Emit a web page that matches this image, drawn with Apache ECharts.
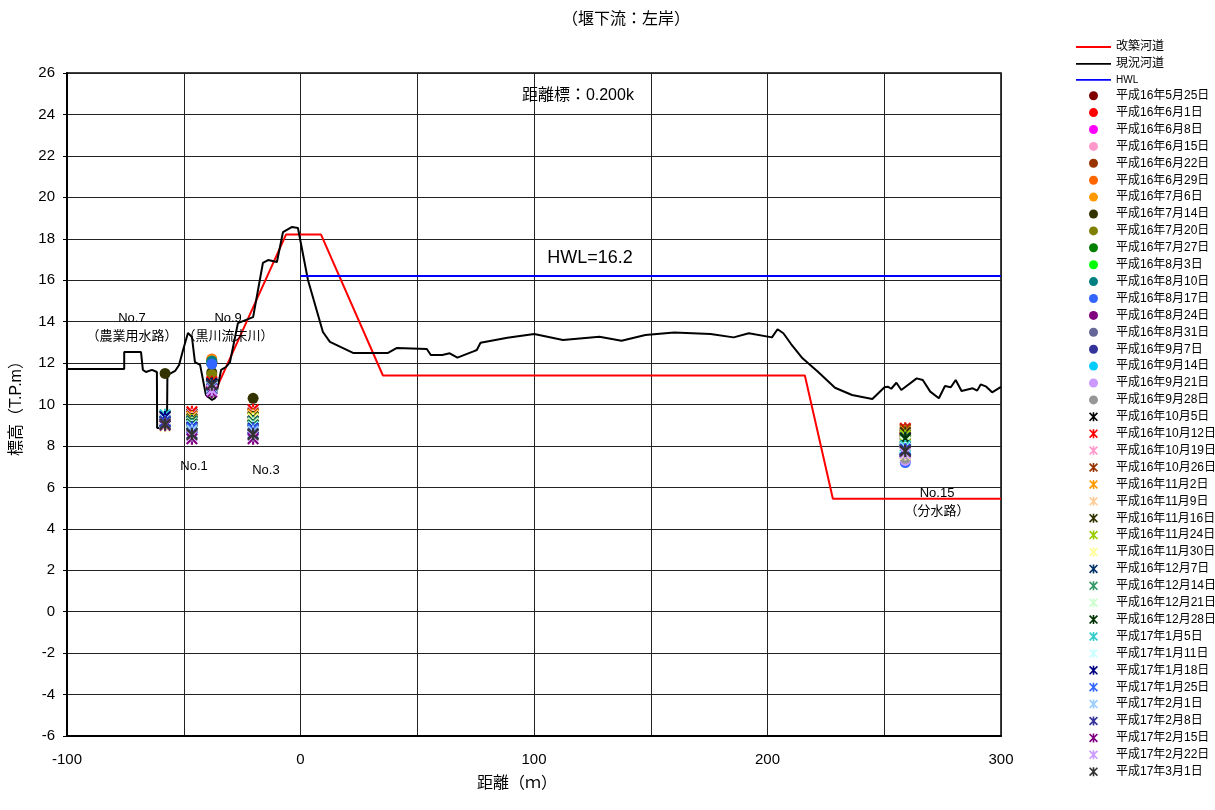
<!DOCTYPE html>
<html>
<head>
<meta charset="utf-8">
<script src="https://cdn.jsdelivr.net/npm/echarts@6/dist/echarts.min.js"></script>
<style>
  html, body { margin: 0; padding: 0; background: #fff; }
  #chart { width: 1215px; height: 810px; }
</style>
</head>
<body>
<div id="chart"></div>
<script>
// ---- Cross-section geometry (distance m, elevation T.P.m) ----
const planProfile = [
  [-37.3, 10.45], [-6.2, 18.2], [8.8, 18.2], [35.3, 11.4],
  [216, 11.4], [228, 5.45], [300, 5.45]
];
const groundProfile = [
  [-100, 11.71], [-75.5, 11.71], [-75.5, 12.53], [-68.3, 12.53], [-67.5, 11.67],
  [-66.2, 11.57], [-63.6, 11.67], [-61.5, 11.57], [-61.4, 8.87], [-57.2, 8.87],
  [-57.0, 11.42], [-53.7, 11.62], [-52.0, 11.91], [-50.3, 12.63], [-48.2, 13.45],
  [-46.5, 13.26], [-45.2, 12.05], [-43.0, 11.91], [-40.5, 10.46], [-37.9, 10.22],
  [-36.6, 10.31], [-35.7, 10.70], [-34.0, 11.67], [-31.9, 11.81], [-30.2, 12.05],
  [-26.8, 13.93], [-20.3, 14.22], [-16.1, 16.83], [-13.9, 16.97], [-10.1, 16.88],
  [-7.5, 18.32], [-3.6, 18.57], [-1.1, 18.52], [3.2, 16.01], [9.6, 13.50],
  [12.6, 13.02], [22.5, 12.49], [31.9, 12.49], [37.5, 12.49], [41.3, 12.73],
  [54.1, 12.68], [55.8, 12.39], [60.7, 12.39], [63.9, 12.47], [67.2, 12.26],
  [73.8, 12.55], [75.5, 12.63], [77.1, 12.98], [88.6, 13.22], [100.1, 13.40],
  [112.4, 13.11], [128.0, 13.27], [137.5, 13.08], [147.7, 13.35], [160.0, 13.47],
  [175.6, 13.40], [185.5, 13.24], [192.0, 13.44], [201.9, 13.24], [204.3, 13.63],
  [206.8, 13.44], [210.1, 12.92], [215.0, 12.23], [221.6, 11.58], [228.9, 10.81],
  [236.2, 10.46], [244.9, 10.27], [250.1, 10.83], [251.5, 10.86], [253.0, 10.76],
  [255.2, 11.05], [257.3, 10.70], [263.9, 11.26], [266.5, 11.18], [269.7, 10.62],
  [273.4, 10.30], [276.0, 10.89], [278.5, 10.83], [280.6, 11.18], [283.1, 10.65],
  [287.9, 10.78], [289.8, 10.67], [291.3, 10.97], [293.7, 10.86], [296.2, 10.59],
  [300.0, 10.85]
];
const hwlLevel = 16.2;
const hwlRange = [0, 300];

// ---- Water-level survey points ----
// observation sites: No.7, No.1, No.9, No.3, No.15
const siteX = [-58, -46.5, -38, -20.3, 259];

const circleDates = [
  '平成16年5月25日', '平成16年6月1日', '平成16年6月8日', '平成16年6月15日',
  '平成16年6月22日', '平成16年6月29日', '平成16年7月6日', '平成16年7月14日',
  '平成16年7月20日', '平成16年7月27日', '平成16年8月3日', '平成16年8月10日',
  '平成16年8月17日', '平成16年8月24日', '平成16年8月31日', '平成16年9月7日',
  '平成16年9月14日', '平成16年9月21日', '平成16年9月28日'
];
const circleColors = [
  '#800000', '#FF0000', '#FF00FF', '#FF99CC', '#993300', '#FF6600', '#FF9900',
  '#333300', '#808000', '#008000', '#00FF00', '#008080', '#3366FF', '#800080',
  '#666699', '#333399', '#00CCFF', '#CC99FF', '#969696'
];
const circleLevels = [
  [null, null, 12.00, null, 8.70],
  [null, null, 12.05, null, 8.80],
  [null, null, 12.00, null, 8.60],
  [null, null, 12.10, null, 8.50],
  [null, null, 12.00, null, 8.75],
  [null, null, 12.20, null, 8.60],
  [null, null, 12.15, null, 8.50],
  [11.50, null, 11.55, 10.30, 8.55],
  [null, null, 11.45, null, 8.40],
  [null, null, 12.05, null, 8.00],
  [null, null, 12.00, null, 7.90],
  [null, null, 12.10, null, 7.70],
  [null, null, 11.95, null, 7.20],
  [null, null, 10.90, null, 7.60],
  [null, null, 10.80, null, 7.50],
  [null, null, 10.85, null, 7.50],
  [9.40, null, 10.70, null, 7.65],
  [null, null, 10.75, null, 7.30],
  [null, null, 10.60, null, 7.40]
];

const crossDates = [
  '平成16年10月5日', '平成16年10月12日', '平成16年10月19日', '平成16年10月26日',
  '平成16年11月2日', '平成16年11月9日', '平成16年11月16日', '平成16年11月24日',
  '平成16年11月30日', '平成16年12月7日', '平成16年12月14日', '平成16年12月21日',
  '平成16年12月28日', '平成17年1月5日', '平成17年1月11日', '平成17年1月18日',
  '平成17年1月25日', '平成17年2月1日', '平成17年2月8日', '平成17年2月15日',
  '平成17年2月22日', '平成17年3月1日'
];
const crossColors = [
  '#000000', '#FF0000', '#FF99CC', '#993300', '#FF9900', '#FFCC99', '#333300',
  '#99CC00', '#FFFF99', '#003366', '#339966', '#CCFFCC', '#003300', '#33CCCC',
  '#CCFFFF', '#000080', '#3366FF', '#99CCFF', '#333399', '#800080', '#CC99FF',
  '#333333'
];
const crossLevels = [
  [9.45, 9.55, 11.00, 9.60, 8.55],
  [9.30, 9.65, 11.10, 9.75, 8.85],
  [9.20, 9.50, 10.95, 9.60, 8.75],
  [9.10, 9.45, 11.00, 9.55, 8.80],
  [9.00, 9.40, 10.90, 9.50, 8.70],
  [9.00, 9.35, 10.95, 9.45, 8.60],
  [9.10, 9.30, 11.00, 9.40, 8.65],
  [9.00, 9.25, 10.90, 9.35, 8.50],
  [8.95, 9.20, 10.85, 9.30, 7.60],
  [9.20, 9.20, 10.90, 9.20, 8.40],
  [9.10, 9.15, 10.95, 9.15, 8.30],
  [9.00, 9.10, 10.90, 9.10, 8.20],
  [9.20, 9.05, 11.00, 9.00, 8.35],
  [9.50, 9.00, 10.95, 8.95, 8.00],
  [9.30, 8.95, 10.90, 8.90, 7.90],
  [9.40, 8.90, 11.00, 8.85, 7.80],
  [9.20, 8.85, 10.90, 8.80, 7.85],
  [9.10, 8.75, 10.80, 8.70, 7.75],
  [9.15, 8.60, 10.75, 8.60, 7.80],
  [9.00, 8.35, 10.60, 8.35, 7.70],
  [9.05, 8.50, 10.70, 8.50, 7.65],
  [9.05, 8.55, 10.95, 8.55, 7.75]
];

// ---- Text notes placed in data coordinates ----
const noteTexts = ['No.7\n（農業用水路）', 'No.9\n（黒川流末川）', 'No.1', 'No.3',
                   'No.15\n（分水路）', '距離標：0.200k', 'HWL=16.2'];
const noteX = [-72.2, -31.0, -45.6, -14.8, 272.6, 118.8, 124.0];
const noteY = [13.74, 13.74, 7.03, 6.84, 5.29, 24.9, 17.07];
const noteSizes = [13, 13, 13, 13, 13, 16, 18];

const FONT = '"Liberation Sans", Arial, "Noto Sans CJK JP", sans-serif';
const CROSS = 'path://M4.1,0L5.9,0L5.9,10L4.1,10Z M0,1.3L1.3,0L10,8.7L8.7,10Z M8.7,0L10,1.3L1.3,10L0,8.7Z';
const LINE_ICON = 'path://M0,0L38,0L38,2L0,2Z';

function toPoints(levels) {
  const pts = [];
  levels.forEach((v, k) => { if (v != null) pts.push([siteX[k], v]); });
  return pts;
}

function surveySeries(dates, colors, levels, symbol, size) {
  return dates.map((d, i) => ({
    name: d,
    type: 'scatter',
    symbol: symbol,
    symbolSize: size,
    symbolKeepAspect: true,
    itemStyle: { color: colors[i], opacity: 1 },
    data: toPoints(levels[i]),
    z: 3
  }));
}

const lineSeries = [
  { name: '改築河道', color: '#FF0000', data: planProfile },
  { name: '現況河道', color: '#000000', data: groundProfile },
  { name: 'HWL', color: '#0000FF', data: hwlRange.map(x => [x, hwlLevel]) }
].map(s => ({
  name: s.name,
  type: 'line',
  symbol: 'none',
  data: s.data,
  lineStyle: { color: s.color, width: 2 },
  itemStyle: { color: s.color },
  z: 2
}));

const noteSeries = {
  name: 'notes',
  type: 'scatter',
  symbolSize: 0,
  silent: true,
  z: 5,
  itemStyle: { opacity: 1 },
  data: noteTexts.map((t, i) => ({
    name: t,
    value: [noteX[i], noteY[i]],
    label: { fontSize: noteSizes[i], lineHeight: noteSizes[i] + 5, color: '#000' }
  })),
  label: {
    show: true,
    position: 'inside',
    formatter: '{b}',
    color: '#000',
    opacity: 1,
    fontFamily: FONT
  }
};

const legendData = [
  { name: '改築河道', icon: LINE_ICON },
  { name: '現況河道', icon: LINE_ICON },
  { name: 'HWL', icon: LINE_ICON, textStyle: { fontSize: 10 } }
].concat(circleDates, crossDates);

const chart = echarts.init(document.getElementById('chart'), null, { renderer: 'canvas' });
chart.setOption({
  animation: false,
  backgroundColor: '#fff',
  textStyle: { fontFamily: FONT },
  title: {
    text: '（堰下流：左岸）',
    left: 621,
    top: 7,
    textAlign: 'center',
    textStyle: { fontSize: 16, fontWeight: 'normal', color: '#000', fontFamily: FONT }
  },
  grid: {
    left: 67, right: 214, top: 73, bottom: 74,
    show: true, borderColor: '#000', borderWidth: 1.5, backgroundColor: '#fff'
  },
  legend: {
    orient: 'vertical',
    left: 1071,
    top: 36,
    itemWidth: 35,
    itemHeight: 9,
    itemGap: 4.9,
    selectedMode: false,
    textStyle: { fontSize: 12, color: '#000', fontFamily: FONT },
    data: legendData
  },
  xAxis: {
    type: 'value',
    min: -100, max: 300, interval: 50,
    name: '距離（ｍ）',
    nameLocation: 'middle',
    nameGap: 40,
    nameTextStyle: { fontSize: 16, color: '#000', padding: [0, 34, 0, 0] },
    axisLine: { onZero: false, lineStyle: { color: '#000', width: 2 } },
    axisTick: { show: false },
    axisLabel: {
      fontSize: 15, color: '#000', margin: 16,
      formatter: v => (v % 100 === 0 ? String(v) : '')
    },
    splitLine: { show: true, lineStyle: { color: '#222', width: 1 } }
  },
  yAxis: {
    type: 'value',
    min: -6, max: 26, interval: 2,
    name: '標高（T.P.m）',
    nameLocation: 'middle',
    nameGap: 42,
    nameTextStyle: { fontSize: 16, color: '#000' },
    axisLine: { onZero: false, lineStyle: { color: '#000', width: 2 } },
    axisTick: { show: true, length: 4, lineStyle: { color: '#000' } },
    axisLabel: { fontSize: 15, color: '#000', margin: 12 },
    splitLine: { show: true, lineStyle: { color: '#222', width: 1 } }
  },
  series: lineSeries
    .concat(surveySeries(circleDates, circleColors, circleLevels, 'circle', 11))
    .concat(surveySeries(crossDates, crossColors, crossLevels, CROSS, 12))
    .concat([noteSeries])
});
</script>
</body>
</html>
